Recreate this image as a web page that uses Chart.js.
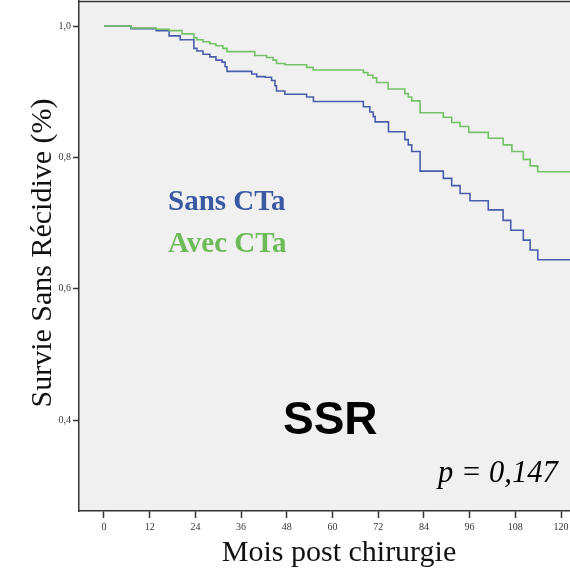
<!DOCTYPE html>
<html>
<head>
<meta charset="utf-8">
<script src="https://cdn.jsdelivr.net/npm/chart.js@4.4.1/dist/chart.umd.min.js"></script>
<style>
  html, body { margin: 0; padding: 0; background: #fff; }
  canvas { display: block; }
</style>
</head>
<body>
<canvas id="km" width="570" height="569"></canvas>
<script>
// temps (mois) et survie sans récidive
const sansTimes = [0, 7.1, 13.7, 17.1, 20.0, 23.6, 24.4, 26.0, 27.8, 29.4, 31.0, 31.8, 32.3, 38.8, 40.1, 42.3, 44.0, 44.9, 45.3, 47.5, 53.2, 55.0, 68.1, 69.8, 70.7, 71.2, 74.7, 79.0, 79.9, 80.8, 83.0, 89.1, 91.3, 93.5, 96.1, 100.9, 104.8, 106.8, 110.1, 111.9, 113.9, 122.4];
const sansSurv  = [1.0, 0.996, 0.993, 0.985, 0.979, 0.966, 0.962, 0.957, 0.953, 0.948, 0.945, 0.938, 0.931, 0.927, 0.923, 0.922, 0.917, 0.909, 0.901, 0.896, 0.892, 0.885, 0.877, 0.869, 0.862, 0.854, 0.839, 0.827, 0.819, 0.809, 0.779, 0.768, 0.757, 0.745, 0.734, 0.720, 0.704, 0.689, 0.674, 0.659, 0.644, 0.644];

const avecTimes = [0, 7.1, 13.7, 17.1, 20.5, 23.6, 24.4, 26.0, 27.8, 29.4, 31.2, 32.3, 39.6, 42.7, 44.4, 45.3, 47.5, 53.2, 54.9, 68.1, 69.3, 70.6, 71.6, 74.6, 79.0, 79.9, 80.8, 83.0, 89.1, 91.3, 93.5, 95.8, 100.9, 104.8, 107.1, 110.1, 111.9, 113.9, 122.4];
const avecSurv  = [1.0, 0.997, 0.995, 0.993, 0.988, 0.982, 0.979, 0.976, 0.973, 0.970, 0.966, 0.961, 0.955, 0.952, 0.948, 0.943, 0.941, 0.937, 0.933, 0.929, 0.925, 0.921, 0.914, 0.904, 0.897, 0.892, 0.886, 0.868, 0.861, 0.853, 0.847, 0.838, 0.829, 0.819, 0.809, 0.797, 0.787, 0.778, 0.778];

const xTicks = [0, 12, 24, 36, 48, 60, 72, 84, 96, 108, 120];
const yTicks = [0.4, 0.6, 0.8, 1.0];

const BLUE = '#4a5dab';
const GREEN = '#74c168';

const toPoints = (t, s) => t.map((x, i) => ({ x: x, y: s[i] }));

// fond gris de la zone de tracé, cadre et textes
const decor = {
    id: 'decor',
    beforeDraw(chart) {
        const { ctx, chartArea: a } = chart;
        ctx.save();
        ctx.fillStyle = '#fff';
        ctx.fillRect(0, 0, chart.width, chart.height);
        ctx.fillStyle = '#f0f0f0';
        ctx.fillRect(a.left, a.top, a.right - a.left, a.bottom - a.top);
        ctx.restore();
    },
    afterDraw(chart) {
        const { ctx, chartArea: a } = chart;
        ctx.save();
        ctx.strokeStyle = '#333';
        ctx.lineWidth = 1.5;
        ctx.beginPath();
        ctx.moveTo(a.left, a.top + 0.5);
        ctx.lineTo(a.right, a.top + 0.5);
        ctx.stroke();

        // titre axe y
        ctx.fillStyle = '#111';
        ctx.font = '30px "Liberation Serif"';
        ctx.textAlign = 'center';
        ctx.textBaseline = 'alphabetic';
        ctx.save();
        ctx.translate(51, 253);
        ctx.rotate(-Math.PI / 2);
        ctx.fillText('Survie Sans Récidive (%)', 0, 0);
        ctx.restore();

        // titre axe x
        ctx.fillText('Mois post chirurgie', 339, 561);

        // légende
        ctx.textAlign = 'left';
        ctx.font = 'bold 29px "Liberation Serif"';
        ctx.fillStyle = '#3b58a2';
        ctx.fillText('Sans CTa', 168, 210);
        ctx.fillStyle = '#6cba58';
        ctx.fillText('Avec CTa', 168, 252);

        ctx.fillStyle = '#000';
        ctx.font = 'bold 46px "Liberation Sans"';
        ctx.fillText('SSR', 283, 434);

        ctx.font = 'italic 30.5px "Liberation Serif"';
        ctx.fillText('p = 0,147', 438, 482);
        ctx.restore();
    }
};

const ctx = document.getElementById('km').getContext('2d');
new Chart(ctx, {
    type: 'line',
    data: {
        datasets: [{
            label: 'Avec CTa',
            data: toPoints(avecTimes, avecSurv),
            borderColor: GREEN,
            borderWidth: 1.6,
            stepped: true,
            pointRadius: 0,
            fill: false,
            order: 0
        }, {
            label: 'Sans CTa',
            data: toPoints(sansTimes, sansSurv),
            borderColor: BLUE,
            borderWidth: 1.6,
            stepped: true,
            pointRadius: 0,
            fill: false,
            order: 1
        }]
    },
    options: {
        responsive: false,
        animation: false,
        layout: { padding: { top: 1, right: 0, left: 0, bottom: 0 } },
        plugins: {
            legend: { display: false },
            tooltip: { enabled: false }
        },
        scales: {
            x: {
                type: 'linear',
                min: -6.56,
                max: 122.36,
                afterBuildTicks: (s) => { s.ticks = xTicks.map(v => ({ value: v })); },
                afterFit: (s) => { s.height = 58; s.paddingLeft = 0; s.paddingRight = 0; },
                grid: { drawOnChartArea: false, tickLength: 7, tickWidth: 1.5, tickColor: '#333' },
                border: { color: '#333', width: 1.5 },
                ticks: {
                    color: '#333',
                    font: { family: 'Liberation Serif', size: 10 },
                    padding: 3,
                    maxRotation: 0,
                    autoSkip: false
                }
            },
            y: {
                type: 'linear',
                min: 0.2615,
                max: 1.0381,
                afterBuildTicks: (s) => { s.ticks = yTicks.map(v => ({ value: v })); },
                afterFit: (s) => { s.width = 79; s.paddingTop = 0; s.paddingBottom = 0; },
                grid: { drawOnChartArea: false, tickLength: 6, tickWidth: 1.5, tickColor: '#333' },
                border: { color: '#333', width: 1.5 },
                ticks: {
                    color: '#333',
                    font: { family: 'Liberation Serif', size: 10 },
                    padding: 2,
                    callback: (v) => v.toFixed(1).replace('.', ',')
                }
            }
        }
    },
    plugins: [decor]
});
</script>
</body>
</html>
